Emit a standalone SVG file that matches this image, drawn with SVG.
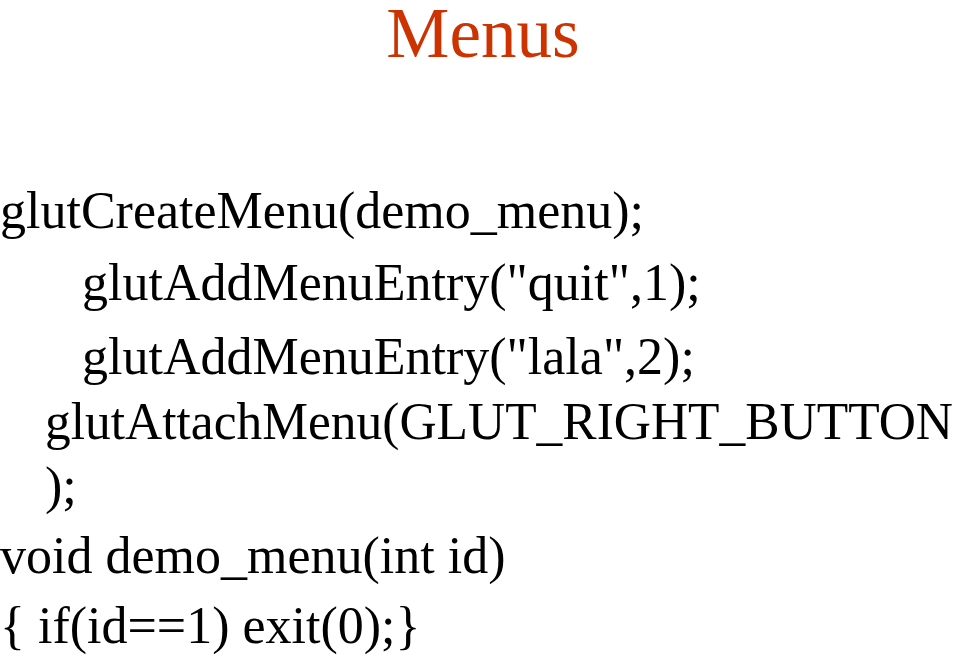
<svg xmlns="http://www.w3.org/2000/svg" width="960" height="656" viewBox="0 0 960 656">
<style>
.t{font-family:"Liberation Serif",serif;font-size:52px;fill:#000}
.h{font-family:"Liberation Serif",serif;font-size:71px;fill:#CC3300}
</style>
<rect width="960" height="656" fill="#fff"/>
<text class="h" x="483" y="57" text-anchor="middle">Menus</text>
<text class="t" x="0" y="228">glutCreateMenu(demo_menu);</text>
<text class="t" x="82" y="300">glutAddMenuEntry("quit",1);</text>
<text class="t" x="82" y="374">glutAddMenuEntry("lala",2);</text>
<text class="t" x="45" y="439" textLength="908" lengthAdjust="spacingAndGlyphs">glutAttachMenu(GLUT_RIGHT_BUTTON</text>
<text class="t" x="45" y="503">);</text>
<text class="t" x="0" y="573">void demo_menu(int id)</text>
<text class="t" x="0" y="643">{ if(id==1) exit(0);}</text>
</svg>
